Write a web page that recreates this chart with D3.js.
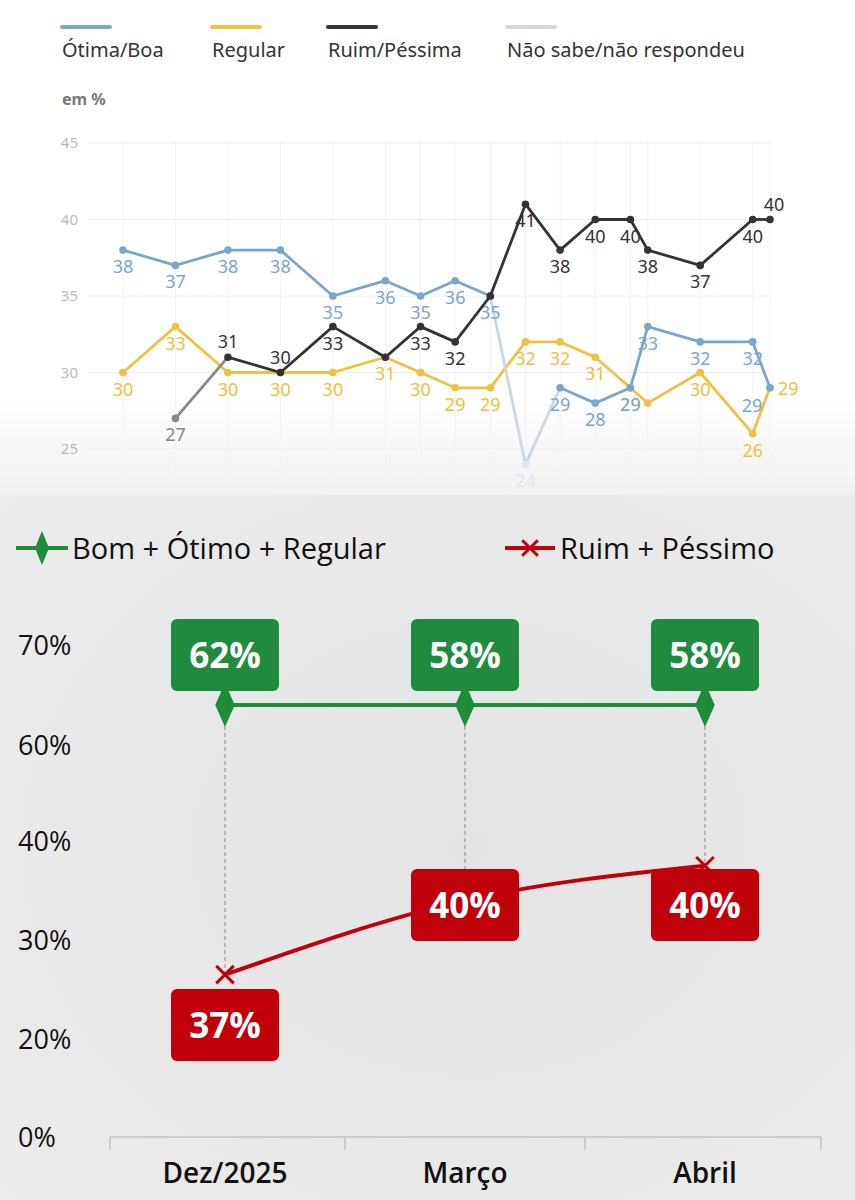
<!DOCTYPE html>
<html><head><meta charset="utf-8">
<script src="https://cdn.jsdelivr.net/npm/d3@7"></script>
<style>body{margin:0;background:#fff}svg{display:block}</style>
</head><body><svg id="c" width="855" height="1200"></svg>
<script>
// ---- top chart data ----
const topX = [0,1,2,3,4,5,5.67,6.33,7,7.67,8.33,9,9.67,10,11,12,12.33];
const otimaBoa = [38,37,38,38,35,36,35,36,35,24,29,28,29,33,32,32,29];
const regular  = [30,33,30,30,30,31,30,29,29,32,32,31,29,28,30,26,29];
const ruimPess = [null,27,31,30,33,31,33,32,35,41,38,40,40,38,37,40,40];
const ruimLabelsAbove = [2,3,16];
const ruimNoLabel = [5,8];
const regularNoLabel = [13];
const topTicks = [25,30,35,40,45];
const topLegend = ["Ótima/Boa","Regular","Ruim/Péssima","Não sabe/não respondeu"];
const topColors = ["#7aa6cc","#f0c040","#333333","#d8d8d8"];
// ---- bottom chart data ----
const months = ["Dez/2025","Março","Abril"];
const bomLabels = ["62%","58%","58%"];
const ruimLabels = ["37%","40%","40%"];
const bomPlot = [64,64,64];
const ruimPlot = [26.5,34,37.5];
const bottomTicks = [0,20,30,40,60,70];

const svg = d3.select("#c");
const F = "'Noto Sans', sans-serif";

const defs = svg.append("defs");
const g1 = defs.append("linearGradient").attr("id","tg").attr("x1",0).attr("x2",0).attr("y1",0).attr("y2",1);
g1.append("stop").attr("offset","0.8").attr("stop-color","#fff");
g1.append("stop").attr("offset","1").attr("stop-color","#f1f1f1");
svg.append("rect").attr("width",855).attr("height",495).attr("fill","url(#tg)");
const g2 = defs.append("radialGradient").attr("id","bg").attr("cx","0.55").attr("cy","0.5").attr("r","0.8");
g2.append("stop").attr("offset","0").attr("stop-color","#e4e4e4");
g2.append("stop").attr("offset","1").attr("stop-color","#ececec");
svg.append("rect").attr("y",495).attr("width",855).attr("height",705).attr("fill","url(#bg)");

// ---- top legend ----
const lx = [62,212,328,507];
topLegend.forEach((t,i)=>{
  svg.append("line").attr("x1",lx[i]).attr("x2",lx[i]+48).attr("y1",27).attr("y2",27)
    .attr("stroke",topColors[i]).attr("stroke-width",4).attr("stroke-linecap","round");
  svg.append("text").attr("x",lx[i]).attr("y",57).text(t).attr("font-family",F)
    .attr("font-size",20).attr("fill","#333");
});
svg.append("text").attr("x",62).attr("y",105).text("em %").attr("font-family",F)
  .attr("font-size",16).attr("font-weight","bold").attr("fill","#777");

// ---- top chart ----
const xT = d3.scaleLinear().domain([0,12.33]).range([123,770]);
const yT = d3.scaleLinear().domain([25,45]).range([449,143]);
const gridT = svg.append("g");
topTicks.forEach(t=>{
  gridT.append("line").attr("x1",88).attr("x2",770).attr("y1",yT(t)).attr("y2",yT(t)).attr("stroke","#eee");
  gridT.append("text").attr("x",78).attr("y",yT(t)+5).attr("text-anchor","end").text(t)
    .attr("font-family",F).attr("font-size",15).attr("fill","#bbb");
});
topX.forEach(x=>gridT.append("line").attr("x1",xT(x)).attr("x2",xT(x)).attr("y1",140).attr("y2",480).attr("stroke","#f2f2f2"));

function series(vals,color,above,noLabel){
  const pts = vals.map((v,i)=>({x:topX[i],v,i})).filter(d=>d.v!=null);
  const line = d3.line().x(d=>xT(d.x)).y(d=>yT(d.v));
  const isBlack = color==="#333333", isBlue = color==="#7aa6cc";
  for(let k=0;k<pts.length-1;k++){
    const a=pts[k],b=pts[k+1];
    const faded = isBlue && (a.v===24||b.v===24);
    const gray = isBlack && a.i===1;
    svg.append("path").attr("d",line([a,b])).attr("fill","none")
      .attr("stroke",faded?"#c9d8e6":gray?"#888":color).attr("stroke-width",2.8);
  }
  pts.forEach(d=>{
    const faded = isBlue&&d.v===24;
    const c = faded?"#dde6ee":(isBlack&&d.i===1?"#888":color);
    svg.append("circle").attr("cx",xT(d.x)).attr("cy",yT(d.v)).attr("r",3.8).attr("fill",c);
    if(noLabel.includes(d.i)) return;
    let dx=0, dy=23, anchor="middle";
    if(above.includes(d.i)){dy=-9;}
    if(d.i===16 && !isBlack){dx=8;dy=7;anchor="start";}
    if(d.i===16 && isBlack){dx=4;}
    if(d.i===16 && isBlue){dx=-18;dy=24;anchor="middle";}
    svg.append("text").attr("x",xT(d.x)+dx).attr("y",yT(d.v)+dy).attr("text-anchor",anchor)
      .text(d.v).attr("font-family",F).attr("font-size",18).attr("fill",c);
  });
}
series(regular,"#f0c040",[],regularNoLabel);
series(otimaBoa,"#7aa6cc",[],[]);
series(ruimPess,"#333333",ruimLabelsAbove,ruimNoLabel);

// ---- bottom chart ----
const xB = d3.scalePoint().domain(months).range([225,705]);
const yB = d3.scaleLinear().domain(bottomTicks).range([1137,1039,940,841,745,645]);
const green="#1e8c3c", red="#c0000b";
const BF = "'Open Sans', sans-serif";

svg.append("line").attr("x1",16).attr("x2",68).attr("y1",548).attr("y2",548).attr("stroke",green).attr("stroke-width",4);
svg.append("path").attr("d",d3.symbol(d3.symbolDiamond,170)()).attr("transform","translate(42,548) scale(1,1.4)").attr("fill",green);
svg.append("text").attr("x",72).attr("y",559).text("Bom + Ótimo + Regular").attr("font-family",BF).attr("font-size",29).attr("fill","#111");
svg.append("line").attr("x1",505).attr("x2",555).attr("y1",548).attr("y2",548).attr("stroke",red).attr("stroke-width",4);
svg.append("path").attr("d",d3.symbol(d3.symbolX,160)()).attr("transform","translate(530,548)").attr("stroke",red).attr("stroke-width",3);
svg.append("text").attr("x",560).attr("y",559).text("Ruim + Péssimo").attr("font-family",BF).attr("font-size",29).attr("fill","#111");

bottomTicks.forEach(t=>{
  svg.append("text").attr("x",18).attr("y",yB(t)+10).text(t+"%").attr("font-family",BF)
    .attr("font-size",27).attr("fill","#111");
});
svg.append("line").attr("x1",110).attr("x2",821).attr("y1",1137).attr("y2",1137).attr("stroke","#c4c4c4").attr("stroke-width",1.5);
[110,345,585,821].forEach(x=>svg.append("line").attr("x1",x).attr("x2",x).attr("y1",1137).attr("y2",1150).attr("stroke","#c4c4c4").attr("stroke-width",1.5));
months.forEach(m=>svg.append("text").attr("x",xB(m)).attr("y",1183).attr("text-anchor","middle").text(m)
  .attr("font-family",BF).attr("font-size",28).attr("font-weight","600").attr("fill","#111"));

months.forEach((m,i)=>{
  svg.append("line").attr("x1",xB(m)).attr("x2",xB(m)).attr("y1",yB(bomPlot[i])).attr("y2",yB(ruimPlot[i]))
    .attr("stroke","#999").attr("stroke-dasharray","4,3").attr("stroke-width",1.2);
});
const lineB = d3.line().x((d,i)=>xB(months[i])).y(d=>yB(d));
svg.append("path").attr("d",lineB(bomPlot)).attr("fill","none").attr("stroke",green).attr("stroke-width",4);
bomPlot.forEach((v,i)=>svg.append("path").attr("d",d3.symbol(d3.symbolDiamond,330)())
  .attr("transform",`translate(${xB(months[i])},${yB(v)}) scale(1,1.3)`).attr("fill",green));
svg.append("path").attr("d",lineB.curve(d3.curveMonotoneX)(ruimPlot)).attr("fill","none").attr("stroke",red).attr("stroke-width",4);
ruimPlot.forEach((v,i)=>svg.append("path").attr("d",d3.symbol(d3.symbolX,200)())
  .attr("transform",`translate(${xB(months[i])},${yB(v)})`).attr("stroke",red).attr("stroke-width",3));

function box(cx,cy,txt,col){
  svg.append("rect").attr("x",cx-54).attr("y",cy-36).attr("width",108).attr("height",72).attr("rx",6).attr("fill",col);
  svg.append("text").attr("x",cx).attr("y",cy+13).attr("text-anchor","middle").text(txt)
    .attr("font-family",BF).attr("font-size",35).attr("font-weight","bold").attr("fill","#fff");
}
const bomBoxY = [655,655,655], ruimBoxY=[1025,905,905];
months.forEach((m,i)=>{box(xB(m),bomBoxY[i],bomLabels[i],green);});
months.forEach((m,i)=>{box(xB(m),ruimBoxY[i],ruimLabels[i],red);});
</script></body></html>
